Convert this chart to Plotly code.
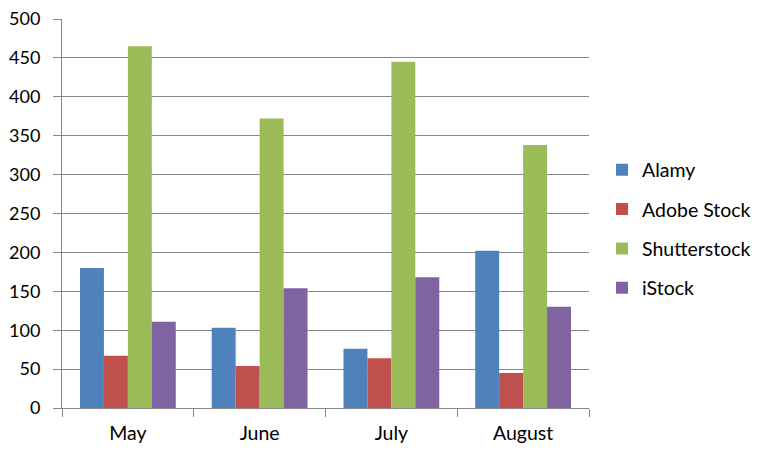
import plotly.graph_objects as go

months = ["May", "June", "July", "August"]
alamy = [180, 103, 76, 202]
adobe = [67, 54, 64, 45]
shutter = [465, 372, 445, 338]
istock = [111, 154, 168, 130]

series = [
    ("Alamy", alamy, "#4F81BD"),
    ("Adobe Stock", adobe, "#C0504D"),
    ("Shutterstock", shutter, "#9BBB59"),
    ("iStock", istock, "#8064A2"),
]

fig = go.Figure()
for i, (name, vals, col) in enumerate(series):
    fig.add_trace(go.Bar(x=months, y=vals, name=name, marker=dict(color=col, line=dict(width=0)),
                         legendgroup=f"g{i}"))

font_family = "Lato, Calibri, Carlito, sans-serif"
fig.update_layout(
    width=766, height=457,
    margin=dict(l=62, r=177, t=19, b=49, autoexpand=False),
    paper_bgcolor="white", plot_bgcolor="white",
    barmode="group", bargap=0.273, bargroupgap=0,
    font=dict(family=font_family, size=19.5, color="#000000"),
    legend=dict(x=602 / 766, y=1 - 229 / 457, xref="container", yref="container",
                xanchor="left", yanchor="middle",
                font=dict(size=19.5), tracegroupgap=11, itemwidth=30,
                bgcolor="rgba(0,0,0,0)"),
    xaxis=dict(showline=True, linecolor="#868686", linewidth=1, automargin=False,
               ticks="outside", tickson="boundaries", ticklen=8, tickcolor="#868686",
               showgrid=False, tickfont=dict(size=19.5), ticklabelstandoff=8),
    yaxis=dict(range=[0, 500], dtick=50, showline=True, linecolor="#868686", linewidth=1,
               automargin=False,
               ticks="outside", ticklen=8, tickcolor="#868686",
               showgrid=True, gridcolor="#868686", gridwidth=1, zeroline=False,
               tickfont=dict(size=18), ticklabelstandoff=9),
)
fig.write_html("out.html", config={"displayModeBar": False},
               post_script="document.body.style.margin='0';")
